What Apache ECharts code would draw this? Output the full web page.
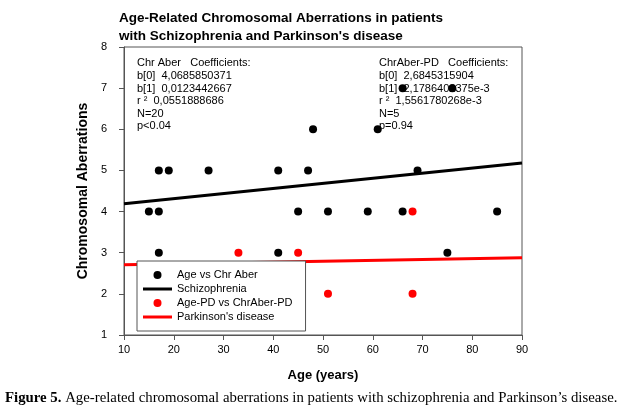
<!DOCTYPE html>
<html><head><meta charset="utf-8">
<script src="https://cdn.jsdelivr.net/npm/echarts@6/dist/echarts.min.js"></script>
<style>html,body{margin:0;padding:0;background:#fff}#c{width:624px;height:413px}</style>
</head><body><div id="c"></div>
<script>
// Data
const szAges   = [15,17,45,51,59,66,85, 17,19,27,41,47,69, 48,61, 66,76, 17,41,75];
const szAberr  = [4,4,4,4,4,4,4, 5,5,5,5,5,5, 6,6, 7,7, 3,3,3];
const pdAges   = [33,45,51,68,68];
const pdAberr  = [3,3,2,2,4];
const szLineX  = [10,90];
const szLineY  = [4.19,5.18];
const pdLineX  = [10,90];
const pdLineY  = [2.71,2.88];
const xTicks   = [10,20,30,40,50,60,70,80,90];
const yTicks   = [1,2,3,4,5,6,7,8];
const leftNote = ["Chr Aber   Coefficients:","b[0]  4,0685850371","b[1]  0,0123442667","r ²  0,0551888686","N=20","p<0.04"];
const rightNote= ["ChrAber-PD   Coefficients:","b[0]  2,6845315904","b[1]  2,1786402375e-3","r ²  1,5561780268e-3","N=5","p=0.94"];

const zip = (a,b)=>a.map((v,i)=>[v,b[i]]);
const F = "'Liberation Sans', Arial, sans-serif";
const LINE_ICON = 'path://M0,0L29,0L29,3L0,3Z';
const chart = echarts.init(document.getElementById('c'));
chart.setOption({
  animation:false,
  backgroundColor:'#fff',
  title:{
    text:'Age-Related Chromosomal Aberrations in patients\nwith Schizophrenia and Parkinson\'s disease',
    left:114, top:4,
    textStyle:{fontFamily:F, fontSize:13.5, fontWeight:'bold', color:'#000', lineHeight:18}
  },
  grid:{left:124, right:102, top:47, bottom:78, show:true, borderColor:'#555', borderWidth:1, backgroundColor:'transparent'},
  xAxis:{
    type:'value', min:xTicks[0], max:xTicks[xTicks.length-1], interval:10,
    name:'Age (years)', nameLocation:'middle', nameGap:34,
    nameTextStyle:{fontFamily:F, fontSize:13, fontWeight:'bold', color:'#000'},
    axisLine:{lineStyle:{color:'#555'}},
    axisTick:{show:true, length:5, inside:false, lineStyle:{color:'#555'}},
    axisLabel:{fontFamily:F, fontSize:11, color:'#000', margin:9},
    splitLine:{show:false}
  },
  yAxis:{
    type:'value', min:yTicks[0], max:yTicks[yTicks.length-1], interval:1,
    name:'Chromosomal Aberrations', nameLocation:'middle', nameGap:26, nameRotate:90,
    nameTextStyle:{fontFamily:F, fontSize:14, fontWeight:'bold', color:'#000'},
    axisLine:{show:true, lineStyle:{color:'#555'}},
    axisTick:{show:true, length:5, inside:false, lineStyle:{color:'#555'}},
    axisLabel:{fontFamily:F, fontSize:11, color:'#000', margin:17},
    splitLine:{show:false}
  },
  legend:{
    orient:'vertical', left:137, top:261,
    padding:[7,13,7,6], itemGap:0, itemWidth:29, itemHeight:8,
    backgroundColor:'#fff', borderColor:'#555', borderWidth:1, borderRadius:0,
    textStyle:{fontFamily:F, fontSize:11, color:'#000', lineHeight:14},
    data:[
      {name:'Age vs Chr Aber', icon:'circle', itemStyle:{color:'#000', opacity:1}},
      {name:'Schizophrenia', icon:LINE_ICON, itemStyle:{color:'#000', opacity:1}},
      {name:'Age-PD vs ChrAber-PD', icon:'circle', itemStyle:{color:'#f00', opacity:1}},
      {name:"Parkinson's disease", icon:LINE_ICON, itemStyle:{color:'#f00', opacity:1}}
    ],
    selectedMode:false
  },
  series:[
    {name:'Age vs Chr Aber', type:'scatter', data:zip(szAges,szAberr), symbolSize:8,
     itemStyle:{color:'#000', opacity:1}, z:4},
    {name:'Schizophrenia', type:'line', data:zip(szLineX,szLineY), showSymbol:false, symbol:'none',
     lineStyle:{color:'#000', width:3}, itemStyle:{color:'#000'}, z:3},
    {name:'Age-PD vs ChrAber-PD', type:'scatter', data:zip(pdAges,pdAberr), symbolSize:8,
     itemStyle:{color:'#f00', opacity:1}, z:4},
    {name:"Parkinson's disease", type:'line', data:zip(pdLineX,pdLineY), showSymbol:false, symbol:'none',
     lineStyle:{color:'#f00', width:3}, itemStyle:{color:'#f00'}, z:3}
  ],
  graphic:[
    {type:'text', left:137, top:57, z:10, style:{text:leftNote.join('\n'), font:'11px '+F, fill:'#000', lineHeight:12.6}},
    {type:'text', left:379, top:57, z:10, style:{text:rightNote.join('\n'), font:'11px '+F, fill:'#000', lineHeight:12.6}},
    {type:'text', left:5, top:391, z:10, style:{
      text:'{b|Figure 5.} Age-related chromosomal aberrations in patients with schizophrenia and Parkinson\u2019s disease.',
      font:"14.8px 'Liberation Serif', 'Times New Roman', serif", fill:'#000',
      rich:{b:{fontWeight:'bold', fontFamily:"'Liberation Serif', 'Times New Roman', serif", fontSize:14.8}}
    }}
  ]
});
</script></body></html>
